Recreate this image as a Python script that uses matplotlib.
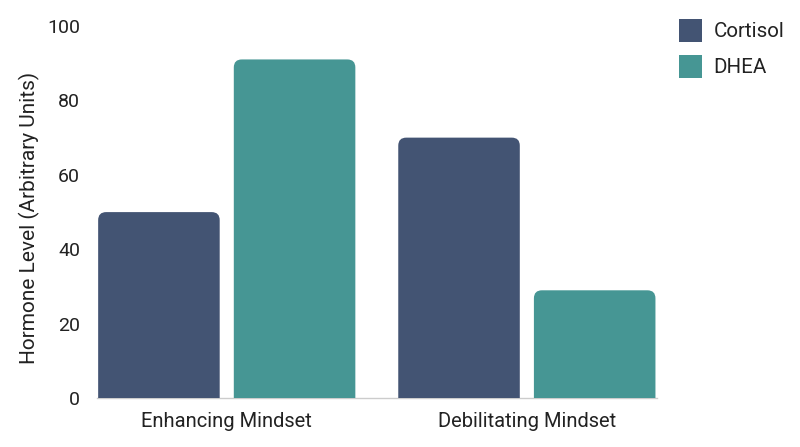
import matplotlib
matplotlib.use("Agg")
import matplotlib.pyplot as plt
import numpy as np
from matplotlib.patches import FancyBboxPatch, Patch

plt.rcParams['font.family'] = ['Roboto', 'DejaVu Sans']

categories = ["Enhancing Mindset", "Debilitating Mindset"]
cortisol = [50, 70]
dhea = [91, 29]
series_names = ["Cortisol", "DHEA"]
colors = {"Cortisol": "#435473", "DHEA": "#469694"}
text_color = "#222222"

fig = plt.figure(figsize=(8, 4.47), dpi=100)
ax = fig.add_axes([0.121, 0.109, 0.700, 0.833])

x = np.arange(len(categories))
width = 0.405
offset = 0.226
ax.set_xlim(-0.433, 1.433)
ax.set_ylim(0, 100)

bars_c = ax.bar(x - offset, cortisol, width, color=colors["Cortisol"], label="Cortisol")
bars_d = ax.bar(x + offset, dhea, width, color=colors["DHEA"], label="DHEA")

# swap plain rectangles for rounded-top ones
fig.canvas.draw()
p0 = ax.transData.transform((0, 0))
p1 = ax.transData.transform((1, 1))
px_x = p1[0] - p0[0]
px_y = p1[1] - p0[1]
radius_px = 8
r = radius_px / px_x
aspect = px_x / px_y
for rect in list(bars_c) + list(bars_d):
    bx, by = rect.get_x(), rect.get_y()
    bw, bh = rect.get_width(), rect.get_height()
    extra = 3 * radius_px / px_y
    patch = FancyBboxPatch((bx, by - extra), bw, bh + extra,
                           boxstyle=f"round,pad=0,rounding_size={r}",
                           mutation_aspect=aspect,
                           facecolor=rect.get_facecolor(), edgecolor="none",
                           clip_on=True, zorder=2)
    ax.add_patch(patch)
    rect.set_visible(False)

ax.set_xticks(x, categories)
ax.set_yticks([0, 20, 40, 60, 80, 100])
ax.tick_params(axis='both', length=0, labelcolor=text_color)
ax.tick_params(axis='x', pad=10, labelsize=14.5)
ax.tick_params(axis='y', pad=12, labelsize=14)
ax.set_ylabel("Hormone Level (Arbitrary Units)", fontsize=15, color=text_color, va='center')
ax.yaxis.set_label_coords(-0.121, 0.485)

for side in ["top", "right", "left"]:
    ax.spines[side].set_visible(False)
ax.spines["bottom"].set_color("#cccccc")
ax.spines["bottom"].set_linewidth(1)
ax.spines["bottom"].set_zorder(1)

handles = [Patch(facecolor=colors[n], edgecolor="none") for n in series_names]
fig.legend(handles, series_names, loc="upper left", bbox_to_anchor=(0.849, 0.958),
           frameon=False, fontsize=14.8, handlelength=1.12, handleheight=1.35,
           handletextpad=0.54, labelspacing=0.62, borderpad=0, borderaxespad=0,
           labelcolor=text_color)

plt.savefig("out.png", dpi=100)
plt.close()
